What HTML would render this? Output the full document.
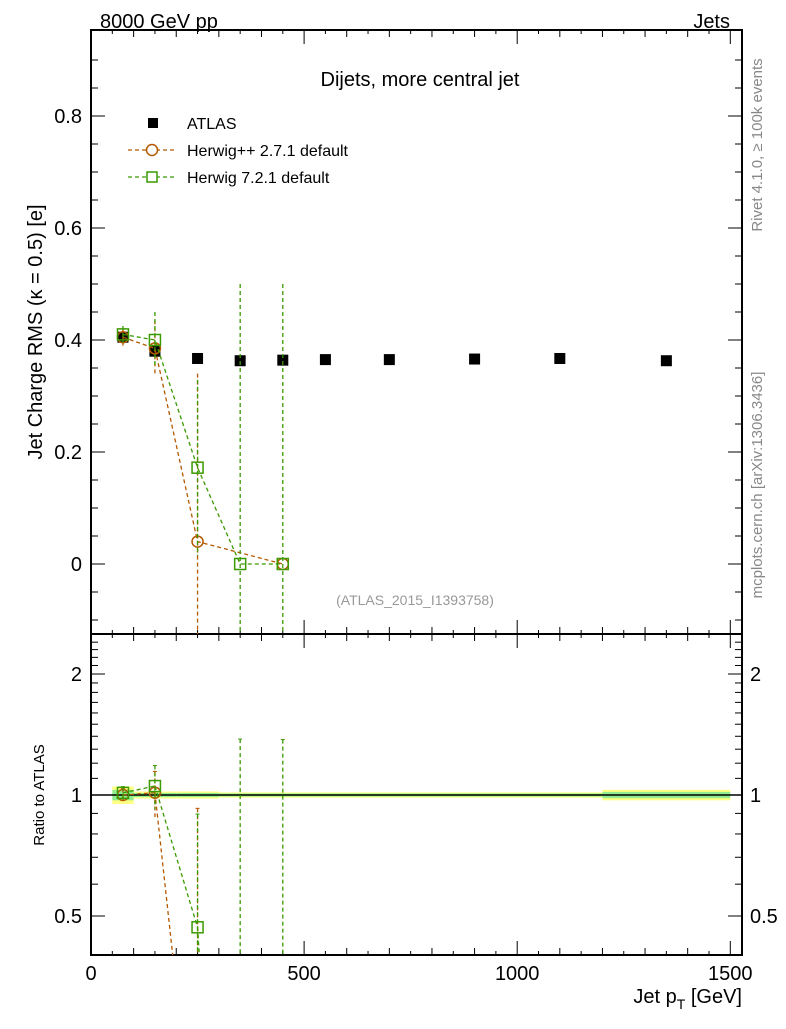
<!DOCTYPE html>
<html><head><meta charset="utf-8"><style>
body{margin:0;background:#fff;width:786px;height:1024px;overflow:hidden}
svg{font-family:"Liberation Sans",sans-serif}
</style></head><body>
<svg id="c" width="786" height="1024">
<text x="100" y="28" font-size="20">8000 GeV pp</text>
<text x="730" y="28" font-size="20" text-anchor="end">Jets</text>
<text x="420" y="86" font-size="20" text-anchor="middle">Dijets, more central jet</text>
<text x="415" y="605" font-size="14" fill="#999" text-anchor="middle">(ATLAS_2015_I1393758)</text>
<text transform="translate(42,332) rotate(-90)" font-size="20" text-anchor="middle">Jet Charge RMS (κ = 0.5) [e]</text>
<text transform="translate(44,795) rotate(-90)" font-size="15" text-anchor="middle">Ratio to ATLAS</text>
<text x="742" y="1003" font-size="20" text-anchor="end">Jet p<tspan font-size="14" dy="6">T</tspan><tspan dy="-6"> [GeV]</tspan></text>
<text transform="translate(762,145) rotate(-90)" font-size="15" fill="#888" text-anchor="middle">Rivet 4.1.0, ≥ 100k events</text>
<text transform="translate(762,485) rotate(-90)" font-size="15" fill="#888" text-anchor="middle">mcplots.cern.ch [arXiv:1306.3436]</text>
<g>
<rect x="148" y="118" width="10" height="10" fill="#000"/>
<text x="187" y="129" font-size="16">ATLAS</text>
<line x1="128" y1="150" x2="176" y2="150" stroke="#b35900" stroke-dasharray="4,3" stroke-width="1.3"/>
<circle cx="152" cy="150" r="5.5" fill="#fff" stroke="#b35900" stroke-width="1.5"/>
<text x="187" y="156" font-size="16">Herwig++ 2.7.1 default</text>
<line x1="128" y1="177" x2="176" y2="177" stroke="#3a9a00" stroke-dasharray="4,3" stroke-width="1.3"/>
<rect x="147" y="172" width="10" height="10" fill="#fff" stroke="#3a9a00" stroke-width="1.5"/>
<text x="187" y="183" font-size="16">Herwig 7.2.1 default</text>
</g>
<g id="g"></g>
</svg>
<script>
const xs=[75,150,250,350,450,550,700,900,1100,1350];
const binEdges=[50,100,200,300,400,500,600,800,1000,1200,1500];
const atlasY=[0.405,0.38,0.367,0.363,0.364,0.365,0.365,0.366,0.367,0.363];
const atlasRelErr=[0.05,0.02,0.02,0.015,0.015,0.015,0.015,0.015,0.015,0.03];
const hppX=[75,150,250,450];
const hppY=[0.405,0.385,0.04,0.0];
const hppErr=[0.015,0.05,0.3,0.0];
const h7X=[75,150,250,350,450];
const h7Y=[0.41,0.4,0.172,0.0,0.0];
const h7Err=[0.015,0.05,0.157,0.5,0.5];
const xTicks=[0,500,1000,1500];
const yTicks=[0,0.2,0.4,0.6,0.8];
const rTicks=[0.5,1,2];

const L=91,R=742,T1=30,B1=634,B2=955;
const X=v=>L+v*0.4262;
const Y=v=>564-v*560;
const RY=v=>795-Math.log2(v)*121;
const g=document.getElementById('g');
const NS='http://www.w3.org/2000/svg';
function el(t,a,name){const e=document.createElementNS(NS,t);for(const k in a)e.setAttribute(k,a[k]);


g.appendChild(e);return e;}
function clipR(v){return Math.max(T1+1,Math.min(B2-1,v));}
// ratio bands
xs.forEach((x,i)=>{const x0=binEdges[i],x1=binEdges[i+1];
const e=atlasRelErr[i];
el('rect',{x:X(x0),y:RY(1+e),width:X(x1)-X(x0),height:RY(1-e)-RY(1+e),fill:'#ffff80'},'ratio-band-outer');
el('rect',{x:X(x0),y:RY(1+e*0.6),width:X(x1)-X(x0),height:RY(1-e*0.6)-RY(1+e*0.6),fill:'#90ee90'},'ratio-band-inner');});
el('line',{x1:L,y1:RY(1),x2:R,y2:RY(1),stroke:'#000','stroke-width':1.5},'ratio-unity-line');
// frames
el('rect',{x:L,y:T1,width:R-L,height:B1-T1,fill:'none',stroke:'#000','stroke-width':2},'main-frame');
el('rect',{x:L,y:B1,width:R-L,height:B2-B1,fill:'none',stroke:'#000','stroke-width':2},'ratio-frame');
// x ticks
for(let v=0;v<=1500;v+=50){const big=v%500==0,mid=v%100==0;const len=big?14:(mid?7:4);
[B1,B2].forEach(b=>{el('line',{x1:X(v),y1:b,x2:X(v),y2:b-len,stroke:'#000'},'x-tick');el('line',{x1:X(v),y1:T1+(b==B2?B1-T1:0),x2:X(v),y2:T1+(b==B2?B1-T1:0)+len,stroke:'#000'},'x-tick-top');});}
xTicks.forEach(v=>{const t=el('text',{x:X(v),y:980,'font-size':20,'text-anchor':'middle'},'x-tick-label');t.textContent=v;});
// y ticks main
for(let v=-0.1;v<=0.95;v+=0.05){const vv=Math.round(v*100)/100;const big=Math.abs(vv*10-Math.round(vv*10))<1e-6&&Math.round(vv*10)%2==0;const len=big?14:7;
el('line',{x1:L,y1:Y(vv),x2:L+len,y2:Y(vv),stroke:'#000'},'y-tick');el('line',{x1:R,y1:Y(vv),x2:R-len,y2:Y(vv),stroke:'#000'},'y-tick-right');}
yTicks.forEach(v=>{const t=el('text',{x:82,y:Y(v)+7,'font-size':20,'text-anchor':'end'},'y-tick-label');t.textContent=v==0?'0':v.toFixed(1);});
// ratio ticks
for(let v=0.4;v<=2.5;v+=0.1){const vv=Math.round(v*10)/10;const big=rTicks.includes(vv);const len=big?14:7;
el('line',{x1:L,y1:RY(vv),x2:L+len,y2:RY(vv),stroke:'#000'},'ratio-tick');el('line',{x1:R,y1:RY(vv),x2:R-len,y2:RY(vv),stroke:'#000'},'ratio-tick-right');}
rTicks.forEach(v=>{[[82,'end'],[750,'start']].forEach(([x,a])=>{const t=el('text',{x:x,y:RY(v)+7,'font-size':20,'text-anchor':a},'ratio-tick-label');t.textContent=v;});});
// series
function series(sx,sy,se,color,shape,name){
 const clipM=v=>Math.max(T1,Math.min(B1,v));
 const ai=x=>xs.indexOf(x);
 const pts=sx.map((x,i)=>X(x)+','+clipM(Y(sy[i]))).join(' ');
 el('polyline',{points:pts,fill:'none',stroke:color,'stroke-dasharray':'4,3','stroke-width':1.3},name+'-line');
 const rp=[];
 sx.forEach((x,i)=>{const r=sy[i]/atlasY[ai(x)];rp.push([X(x),RY(Math.max(r,0.01))]);});
 let d='';for(let i=0;i<rp.length-1;i++){let [x1,y1]=rp[i],[x2,y2]=rp[i+1];if(y1>B2&&y2>B2)continue;
  if(y2>B2){x2=x1+(x2-x1)*(B2-y1)/(y2-y1);y2=B2;}d+=`M${x1},${y1}L${x2},${y2}`;}
 el('path',{d:d,fill:'none',stroke:color,'stroke-dasharray':'4,3','stroke-width':1.3},name+'-ratio-line');
 sx.forEach((x,i)=>{const cx=X(x),e=se[i],a=atlasY[ai(x)];
  if(e>0){el('line',{x1:cx,y1:clipM(Y(sy[i]+e)),x2:cx,y2:clipM(Y(sy[i]-e)),stroke:color,'stroke-dasharray':'4,3','stroke-width':1.3},name+'-errorbar');
   const r=sy[i]/a,re=e/a;
   const top=RY(r+re),bot=r-re>0?RY(r-re):B2;
   el('line',{x1:cx,y1:clipR(top),x2:cx,y2:clipR(bot),stroke:color,'stroke-dasharray':'4,3','stroke-width':1.3},name+'-ratio-errorbar');
   el('line',{x1:cx-2,y1:clipR(top),x2:cx+2,y2:clipR(top),stroke:color},name+'-ratio-cap');}
  const cy=Y(sy[i]),ry=RY(Math.max(sy[i]/a,0.01));
  [[cy,B1],[ry,B2]].forEach(([yy,lim],k)=>{if(yy>lim-4)return;
   if(shape=='c')el('circle',{cx:cx,cy:yy,r:5.5,fill:'none',stroke:color,'stroke-width':1.5},name+(k?'-ratio-point':'-point'));
   else el('rect',{x:cx-5.5,y:yy-5.5,width:11,height:11,fill:'none',stroke:color,'stroke-width':1.5},name+(k?'-ratio-point':'-point'));});
 });
}
xs.forEach((x,i)=>{el('rect',{x:X(x)-5.5,y:Y(atlasY[i])-5.5,width:11,height:11,fill:'#000'},'atlas-point');});
series(hppX,hppY,hppErr,'#b35900','c','herwigpp');
series(h7X,h7Y,h7Err,'#3a9a00','s','herwig7');
</script>
</body></html>
